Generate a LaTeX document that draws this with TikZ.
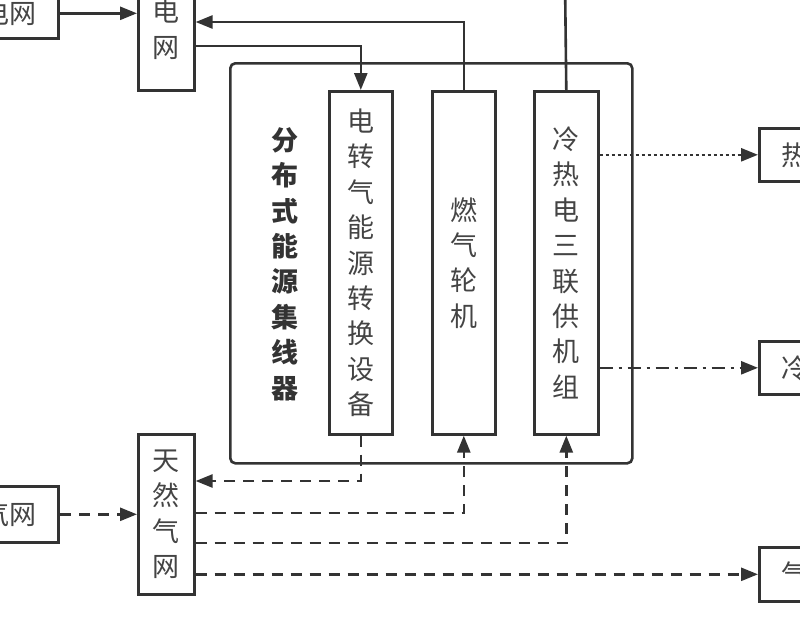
\documentclass[tikz,border=0pt]{standalone}
\usepackage{fontspec}
\setmainfont{Noto Sans CJK SC}
\usetikzlibrary{arrows.meta}
\definecolor{lnc}{HTML}{333333}
\definecolor{txc}{HTML}{444444}
\tikzset{
  box/.style={draw=lnc, line width=2.6pt, inner sep=0pt, text=txc,
    font=\fontsize{27}{35.4}\selectfont, align=center},
  conn/.style={draw=lnc, line width=2.6pt},
  arr/.style={conn, -{Triangle[length=17pt,width=13pt]}},
  dashline/.style={dash pattern=on 11pt off 8pt},
  dotline/.style={dash pattern=on 3pt off 3pt},
  dashdotline/.style={dash pattern=on 13pt off 6pt on 3pt off 6pt},
}
\begin{document}
\begin{tikzpicture}[x=1pt,y=-1pt]
\useasboundingbox (0,0) rectangle (800,630);
\clip (0,0) rectangle (800,630);
% coordinates used as heights
\coordinate (y22) at (0,22);
\coordinate (y46) at (0,46);
\coordinate (y481) at (0,481);
\coordinate (y513) at (0,513);
\coordinate (y543) at (0,543);
\coordinate (topend) at (565,-20);
% left boxes
\node[box, anchor=north east, minimum width=110pt, minimum height=50pt,
  text width=66pt, inner xsep=22pt, align=right] (pwL) at (60,-13) {电网};
\node[box, anchor=north east, minimum width=110pt, minimum height=56pt,
  text width=66pt, inner xsep=22pt, align=right] (gasL) at (60,485) {气网};
% grids
\node[box, anchor=north west, minimum width=56pt, minimum height=122pt] (grid) at (137,-33) {电\\网};
\node[box, anchor=north west, minimum width=56pt, minimum height=160pt] (ng) at (137,433) {天\\然\\气\\网};
% hub
\node[draw=lnc, line width=2.6pt, rounded corners=5pt, inner sep=0pt,
  minimum width=402pt, minimum height=400pt, anchor=north west] (hub) at (229,62) {};
\node[text=lnc, font=\fontsize{27}{35.4}\selectfont\bfseries, align=center, inner sep=0pt] (hubl) at (285,264)
  {分\\布\\式\\能\\源\\集\\线\\器};
\node[box, anchor=north west, minimum width=63pt, minimum height=343pt] (p2g) at (328,90)
  {电\\转\\气\\能\\源\\转\\换\\设\\备};
\node[box, anchor=north west, minimum width=63pt, minimum height=343pt] (gt) at (431,90)
  {燃\\气\\轮\\机};
\node[box, anchor=north west, minimum width=64pt, minimum height=343pt] (cchp) at (533,90)
  {冷\\热\\电\\三\\联\\供\\机\\组};
% right boxes
\node[box, anchor=north west, minimum width=122pt, minimum height=53pt,
  text width=78pt, inner xsep=22pt, align=left] (heat) at (758,127) {热};
\node[box, anchor=north west, minimum width=122pt, minimum height=53pt,
  text width=78pt, inner xsep=22pt, align=left] (cold) at (758,340) {冷};
\node[box, anchor=north west, minimum width=122pt, minimum height=54pt,
  text width=78pt, inner xsep=22pt, align=left] (gas) at (758,546) {气};
% electric connections
\draw[arr] (pwL.east) -- (pwL.east -| grid.west);
\draw[arr] (gt.north) |- (grid.east |- y22);
\draw[arr] (grid.east |- y46) -| (p2g.north);
\draw[conn] (cchp.north) -- (topend);
% outputs
\draw[arr, dotline] (cchp.east |- heat.west) -- (heat.west);
\draw[arr, dashdotline] (cchp.east |- cold.west) -- (cold.west);
% gas connections
\draw[arr, dashline] (gasL.east) -- (gasL.east -| ng.west);
\draw[arr, dashline] (p2g.south) |- (ng.east |- y481);
\draw[arr, dashline] (ng.east |- y513) -| (gt.south);
\draw[arr, dashline] (ng.east |- y543) -| (cchp.south);
\draw[arr, dashline] (ng.east |- gas.west) -- (gas.west);
\end{tikzpicture}
\end{document}
